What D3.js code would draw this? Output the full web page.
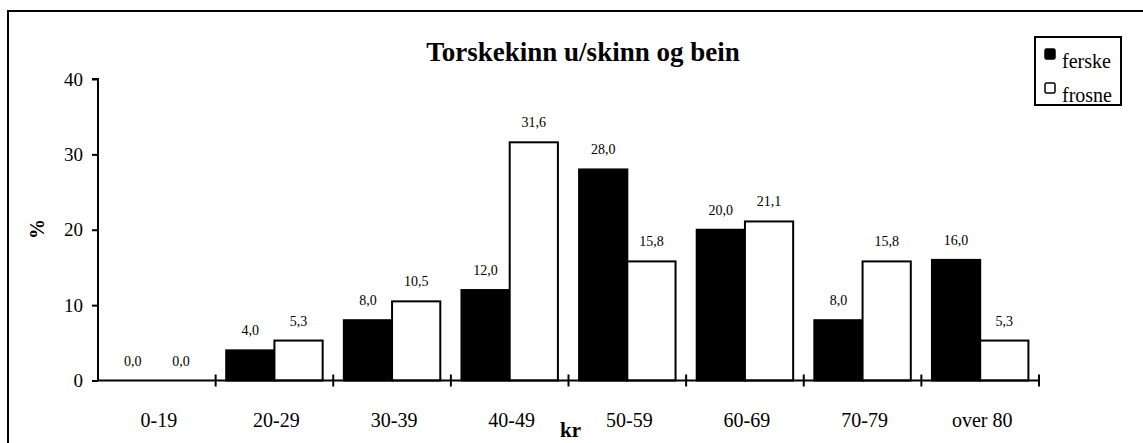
<!DOCTYPE html>
<html>
<head>
<meta charset="utf-8">
<script src="https://cdn.jsdelivr.net/npm/d3@7"></script>
<style>
  body { margin: 0; background: #fff; }
  svg text { font-family: "Liberation Serif", "Times New Roman", serif !important; fill: #000; }
</style>
</head>
<body>
<div id="wrapper"></div>
<script>
const categories = ["0-19", "20-29", "30-39", "40-49", "50-59", "60-69", "70-79", "over 80"]
const ferske = [0.0, 4.0, 8.0, 12.0, 28.0, 20.0, 8.0, 16.0]
const frosne = [0.0, 5.3, 10.5, 31.6, 15.8, 21.1, 15.8, 5.3]
const seriesNames = ["ferske", "frosne"]
const yTicks = [0, 10, 20, 30, 40]

const dimensions = {
  width: 1143,
  height: 443,
  margin: { top: 79, right: 104, bottom: 62.5, left: 98 },
}
dimensions.boundedWidth = dimensions.width - dimensions.margin.left - dimensions.margin.right
dimensions.boundedHeight = dimensions.height - dimensions.margin.top - dimensions.margin.bottom

const rows = categories.map((c, i) => ({ cat: c, values: [ferske[i], frosne[i]] }))

const svg = d3.select("#wrapper").append("svg")
  .attr("width", dimensions.width)
  .attr("height", dimensions.height)

// outer frame
svg.append("rect")
  .attr("x", 8).attr("y", 11)
  .attr("width", 1150).attr("height", 450)
  .attr("fill", "none").attr("stroke", "#000").attr("stroke-width", 2)

const bounds = svg.append("g")
  .attr("transform", `translate(${dimensions.margin.left},${dimensions.margin.top})`)

const xScale = d3.scaleBand()
  .domain(categories)
  .range([0, dimensions.boundedWidth])
const innerPad = xScale.bandwidth() * 0.09
const xSub = d3.scaleBand()
  .domain(seriesNames)
  .range([innerPad, xScale.bandwidth() - innerPad])
const yScale = d3.scaleLinear()
  .domain([0, 40])
  .range([dimensions.boundedHeight, 0])

// bars
const groups = bounds.selectAll(".grp")
  .data(rows)
  .join("g")
  .attr("class", "grp")
  .attr("transform", d => `translate(${xScale(d.cat)},0)`)

groups.selectAll("rect")
  .data(d => d.values.map((v, i) => ({ key: seriesNames[i], v })))
  .join("rect")
  .attr("x", d => xSub(d.key))
  .attr("y", d => yScale(d.v))
  .attr("width", xSub.bandwidth())
  .attr("height", d => yScale(0) - yScale(d.v))
  .attr("fill", d => d.key === "ferske" ? "#000" : "#fff")
  .attr("stroke", "#000")
  .attr("stroke-width", 2)
  .attr("visibility", d => d.v === 0 ? "hidden" : "visible")

groups.selectAll(".val")
  .data(d => d.values.map((v, i) => ({ key: seriesNames[i], v })))
  .join("text")
  .attr("class", "val")
  .attr("x", d => xSub(d.key) + xSub.bandwidth() / 2)
  .attr("y", d => yScale(d.v) - 15)
  .attr("text-anchor", "middle")
  .attr("font-size", 14)
  .text(d => d3.format(".1f")(d.v).replace(".", ","))

// y axis
const yAxis = bounds.append("g")
  .call(d3.axisLeft(yScale).tickValues(yTicks).tickSize(6).tickPadding(9).tickFormat(d3.format("d")))
yAxis.selectAll(".domain").attr("stroke-width", 2).attr("d", `M-6,0H0V${dimensions.boundedHeight}`)
yAxis.selectAll(".tick line").attr("stroke-width", 2)
yAxis.selectAll(".tick text").attr("font-size", 19)

// x axis
const xAxis = bounds.append("g")
  .attr("transform", `translate(0,${dimensions.boundedHeight})`)
  .call(d3.axisBottom(xScale).tickSize(0).tickPadding(32))
xAxis.selectAll(".domain").attr("stroke-width", 2).attr("d", `M0,0H${dimensions.boundedWidth}`)
xAxis.selectAll(".tick text").attr("font-size", 20).attr("dx", 2)
// category boundary ticks
bounds.append("g")
  .selectAll("line")
  .data(categories.slice(1).concat(["end"]))
  .join("line")
  .attr("x1", d => d === "end" ? dimensions.boundedWidth : xScale(d))
  .attr("x2", d => d === "end" ? dimensions.boundedWidth : xScale(d))
  .attr("y1", dimensions.boundedHeight - 6)
  .attr("y2", dimensions.boundedHeight + 6)
  .attr("stroke", "#000")
  .attr("stroke-width", 2)

// titles
svg.append("text")
  .attr("x", 583).attr("y", 61)
  .attr("text-anchor", "middle")
  .attr("font-size", 27).attr("font-weight", "bold")
  .text("Torskekinn u/skinn og bein")

svg.append("text")
  .attr("x", dimensions.margin.left + dimensions.boundedWidth / 2 + 2)
  .attr("y", 437)
  .attr("text-anchor", "middle")
  .attr("font-size", 21).attr("font-weight", "bold")
  .text("kr")

svg.append("text")
  .attr("transform", "translate(44,229) rotate(-90)")
  .attr("text-anchor", "middle")
  .attr("font-size", 20).attr("font-weight", "bold")
  .text("%")

// legend
const legend = svg.append("g").attr("transform", "translate(1035,37)")
legend.append("rect")
  .attr("width", 86).attr("height", 68)
  .attr("fill", "#fff").attr("stroke", "#000").attr("stroke-width", 2)
const legItems = legend.selectAll(".li")
  .data(seriesNames)
  .join("g")
  .attr("class", "li")
  .attr("transform", (d, i) => `translate(10,${12 + i * 34})`)
legItems.append("rect")
  .attr("width", 10).attr("height", 10)
  .attr("rx", 1.5)
  .attr("fill", d => d === "ferske" ? "#000" : "#fff")
  .attr("stroke", "#000").attr("stroke-width", 1.5)
legItems.append("text")
  .attr("x", 17).attr("y", 19)
  .attr("font-size", 20)
  .text(d => d)
</script>
</body>
</html>
